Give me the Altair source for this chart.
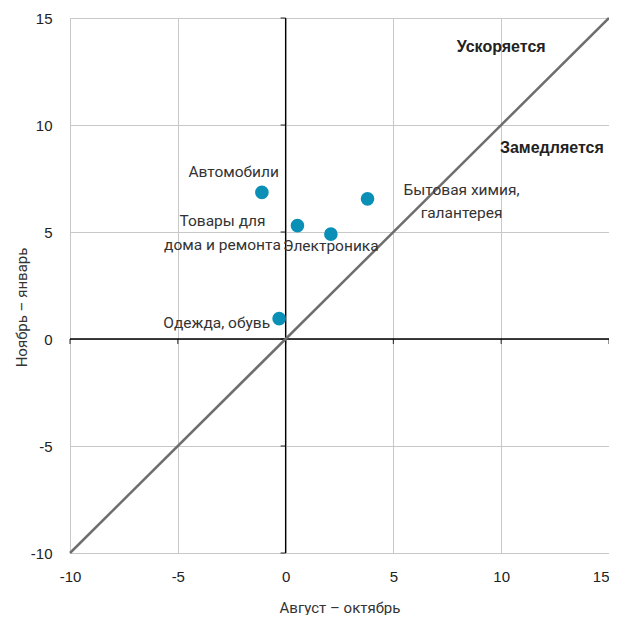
import altair as alt
import pandas as pd

# ---- data ----
categories = ["Автомобили", "Товары для\nдома и ремонта", "Электроника",
              "Бытовая химия,\nгалантерея", "Одежда, обувь"]
x_vals = [-1.1, 0.55, 2.1, 3.8, -0.3]
y_vals = [6.85, 5.3, 4.9, 6.55, 0.95]

axis_ticks = [-10, -5, 0, 5, 10, 15]
diag_vals = [-10, 15]

zone_labels = ["Ускоряется", "Замедляется"]
zone_x = [10.0, 12.35]
zone_y = [13.4, 8.7]

x_title = "Август – октябрь"
y_title = "Ноябрь – январь"

# ---- tables ----
pts = pd.DataFrame({"cat": categories, "x": x_vals, "y": y_vals})
diag = pd.DataFrame({"x": diag_vals, "y": diag_vals})
zones = pd.DataFrame({"t": zone_labels, "x": zone_x, "y": zone_y})
vline = pd.DataFrame({"x": [0], "y": [axis_ticks[0]], "y2": [axis_ticks[-1]]})
hline = pd.DataFrame({"y": [0], "x": [axis_ticks[0]], "x2": [axis_ticks[-1]]})
xt = pd.DataFrame({"x": axis_ticks, "y": [0] * len(axis_ticks)})
yt = pd.DataFrame({"y": axis_ticks, "x": [0] * len(axis_ticks)})

xs = alt.Scale(domain=[axis_ticks[0], axis_ticks[-1]], nice=False, zero=False)
ys = alt.Scale(domain=[axis_ticks[0], axis_ticks[-1]], nice=False, zero=False)

LBL_FONT = "Roboto"
TICK_FONT = "Liberation Sans"

last_tick_test = f"datum.value == {axis_ticks[-1]}"

x_axis = alt.Axis(values=axis_ticks, grid=True, gridColor="#c8c8c8", gridWidth=1,
                  domain=False, ticks=False, labelFont=TICK_FONT, labelFontSize=15,
                  labelColor="#222", labelPadding=16, title=x_title,
                  labelExpr="toString(datum.value)", labelFlush=False,
                  labelAlign={"condition": {"test": last_tick_test, "value": "right"},
                              "value": "center"},
                  titleFont=LBL_FONT, titleFontSize=15, titleFontWeight="normal",
                  titleColor="#333", titlePadding=16)
y_axis = alt.Axis(values=axis_ticks, grid=True, gridColor="#c8c8c8", gridWidth=1,
                  domain=False, ticks=False, labelFont=TICK_FONT, labelFontSize=15,
                  labelColor="#222", labelPadding=18, title=y_title,
                  labelExpr="toString(datum.value)", labelFlush=False,
                  titleFont=LBL_FONT, titleFontSize=15, titleFontWeight="normal",
                  titleColor="#333", titlePadding=1, titleY=289)


def X(field="x"):
    return alt.X(f"{field}:Q", scale=xs, axis=x_axis, title=x_title)


def Y(field="y"):
    return alt.Y(f"{field}:Q", scale=ys, axis=y_axis, title=y_title)


v0 = alt.Chart(vline).mark_rule(color="#000", strokeWidth=1.3).encode(
    x=X(), y=Y(), y2="y2:Q")
h0 = alt.Chart(hline).mark_rule(color="#000", strokeWidth=1.3).encode(
    y=Y(), x=X(), x2="x2:Q")

x_ticks = alt.Chart(xt).mark_tick(color="#000", orient="vertical", size=5,
                                  thickness=1.2, yOffset=2.5).encode(x=X(), y=Y())
y_ticks = alt.Chart(yt).mark_tick(color="#000", orient="horizontal", size=5,
                                  thickness=1.2, xOffset=-2.5).encode(x=X(), y=Y())

diag_line = alt.Chart(diag).mark_line(color="#6e6e6e", strokeWidth=2.5).encode(
    x=X(), y=Y())

points = alt.Chart(pts).mark_circle(size=185, color="#0a8fb6", opacity=1).encode(
    x=X(), y=Y())

label_styles = [
    dict(align="right", dx=17, dy=-15, lineHeight=24),
    dict(align="center", dx=-75, dy=0, lineHeight=24),
    dict(align="center", dx=0, dy=17, lineHeight=24),
    dict(align="center", dx=94, dy=-4, lineHeight=23),
    dict(align="right", dx=-9, dy=9, lineHeight=24),
]
label_layers = []
for i, st in enumerate(label_styles):
    label_layers.append(
        alt.Chart(pts.iloc[[i]]).mark_text(
            font=LBL_FONT, fontSize=15.5, color="#333", baseline="alphabetic",
            lineBreak="\n", **st
        ).encode(x=X(), y=Y(), text="cat:N")
    )

zone_text = alt.Chart(zones).mark_text(
    font=TICK_FONT, fontSize=16, fontWeight="bold", color="#222",
    align="center", baseline="alphabetic"
).encode(x=X(), y=Y(), text="t:N")

chart = alt.layer(v0, h0, x_ticks, y_ticks, diag_line, points, *label_layers,
                  zone_text).properties(
    width=539, height=535,
    autosize=alt.AutoSizeParams(type="none"),
    padding={"left": 62, "top": 10, "right": 0, "bottom": 62},
).configure_view(stroke=None).configure(background="white")

chart.save("out.html", embed_options={"renderer": "svg", "actions": False})
